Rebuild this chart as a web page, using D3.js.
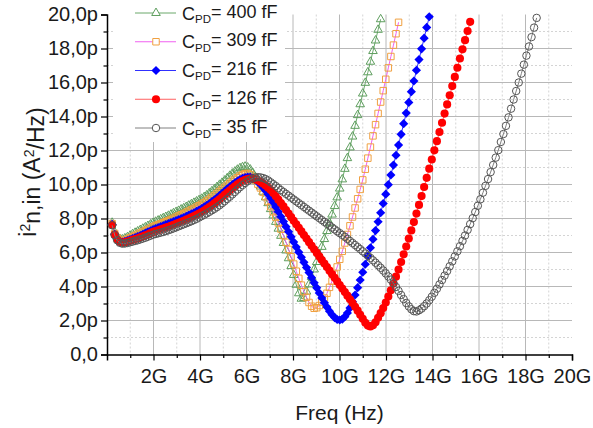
<!DOCTYPE html>
<html>
<head>
<meta charset="utf-8">
<script src="https://cdn.jsdelivr.net/npm/d3@7"></script>
<style>
	body { margin: 0; background: #fff; }
	text { font-family: "Liberation Sans", Arial, sans-serif; fill: #1a1a1a; }
</style>
</head>
<body>
<svg id="chart" width="593" height="428"></svg>
<script>
//frequency sweep (GHz), shared by all curves
var freqGHz = [0.22,0.33,0.44,0.55,0.66,0.77,0.88,0.99,1.1,1.21,1.32,1.43,1.54,1.65,1.76,1.87,1.98,2.09,2.2,2.31,2.42,2.53,2.64,2.75,2.86,2.97,3.08,3.19,3.3,3.41,3.52,3.63,3.74,3.85,3.96,4.07,4.18,4.29,4.4,4.51,4.62,4.73,4.84,4.95,5.06,5.17,5.28,5.39,5.5,5.61,5.72,5.83,5.94,6.05,6.16,6.27,6.38,6.49,6.6,6.71,6.82,6.93,7.04,7.15,7.26,7.37,7.48,7.59,7.7,7.81,7.92,8.03,8.14,8.25,8.36,8.47,8.58,8.69,8.8,8.91,9.02,9.13,9.24,9.35,9.46,9.57,9.68,9.79,9.9,10.01,10.12,10.23,10.34,10.45,10.56,10.67,10.78,10.89,11,11.11,11.22,11.33,11.44,11.55,11.66,11.77,11.88,11.99,12.1,12.21,12.32,12.43,12.54,12.65,12.76,12.87,12.98,13.09,13.2,13.31,13.42,13.53,13.64,13.75,13.86,13.97,14.08,14.19,14.3,14.41,14.52,14.63,14.74,14.85,14.96,15.07,15.18,15.29,15.4,15.51,15.62,15.73,15.84,15.95,16.06,16.17,16.28,16.39,16.5,16.61,16.72,16.83,16.94,17.05,17.16,17.27,17.38,17.49,17.6,17.71,17.82,17.93,18.04,18.15,18.26,18.37,18.48];

//noise current density in pA^2/Hz, one value per sweep point
var cpd400 = [7.75,7.2,6.92,6.8,6.77,6.83,6.9,6.99,7.08,7.16,7.24,7.32,7.4,7.48,7.56,7.65,7.74,7.81,7.88,7.95,8.02,8.09,8.16,8.23,8.31,8.38,8.45,8.53,8.6,8.68,8.76,8.84,8.92,9.0,9.08,9.16,9.26,9.36,9.48,9.6,9.72,9.85,9.98,10.1,10.23,10.37,10.51,10.64,10.76,10.87,10.96,11.02,11.05,
	11.0,10.88,10.68,10.44,10.17,9.88,9.57,9.24,8.9,8.55,8.18,7.8,7.4,6.98,6.56,6.12,5.66,5.2,4.68,4.1,3.6,3.28,3.32,3.7,4.12,4.56,5.0,5.44,5.88,6.33,6.79,7.26,7.74,8.23,8.73,9.24,9.76,10.3,10.92,11.55,12.18,12.82,13.45,14.08,14.72,15.35,15.98,16.6,17.22,17.85,18.47,19.1,19.72];
var cpd309 = [7.7,7.12,6.85,6.72,6.69,6.73,6.79,6.86,6.93,7.0,7.07,7.14,7.21,7.28,7.35,7.43,7.51,7.57,7.63,7.69,7.75,7.81,7.87,7.94,8.01,8.08,8.15,8.22,8.29,8.36,8.43,8.51,8.59,8.67,8.75,8.84,8.93,9.03,9.13,9.24,9.35,9.47,9.59,9.71,9.83,9.95,10.07,10.19,10.3,10.4,10.5,10.58,10.64,
	10.65,10.58,10.45,10.25,10.02,9.8,9.55,9.28,9.0,8.7,8.4,8.08,7.74,7.38,7.0,6.6,6.18,5.75,5.32,4.9,4.48,4.08,3.7,3.36,3.06,2.84,2.72,2.75,2.88,3.08,3.32,3.6,3.95,4.32,4.72,5.15,5.6,6.07,6.56,7.06,7.57,8.09,8.62,9.16,9.71,10.27,10.9,11.55,12.2,12.86,13.52,14.18,14.85,15.52,16.19,16.86,17.53,18.2,18.87,19.54];
var cpd216 = [7.65,7.08,6.8,6.66,6.62,6.65,6.7,6.76,6.82,6.88,6.94,7.0,7.07,7.14,7.21,7.28,7.35,7.41,7.47,7.52,7.58,7.64,7.7,7.76,7.82,7.88,7.94,8.0,8.06,8.13,8.2,8.27,8.34,8.42,8.5,8.59,8.68,8.78,8.88,8.99,9.1,9.22,9.35,9.48,9.61,9.74,9.87,9.99,10.1,10.2,10.29,10.36,10.41,
	10.44,10.43,10.38,10.28,10.15,10.0,9.83,9.64,9.43,9.2,8.95,8.68,8.4,8.11,7.82,7.52,7.22,6.92,6.62,6.32,6.02,5.72,5.42,5.12,4.82,4.52,4.22,3.92,3.62,3.33,3.05,2.79,2.55,2.34,2.17,2.06,2.03,2.08,2.22,2.44,2.74,3.1,3.5,3.93,4.38,4.84,5.31,5.79,6.28,6.78,7.29,7.81,8.34,8.88,9.43,9.99,10.56,11.14,11.72,12.32,12.95,13.58,14.2,14.83,15.46,16.09,16.72,17.35,17.98,18.61,19.24,19.87];
var cpd126 = [7.62,7.05,6.76,6.62,6.58,6.6,6.64,6.69,6.74,6.79,6.84,6.89,6.95,7.01,7.07,7.14,7.21,7.26,7.31,7.36,7.41,7.46,7.51,7.57,7.63,7.69,7.75,7.81,7.87,7.93,8.0,8.07,8.14,8.21,8.29,8.38,8.47,8.57,8.67,8.78,8.89,9.01,9.13,9.26,9.39,9.52,9.65,9.78,9.9,10.01,10.11,10.2,10.27,
	10.32,10.35,10.34,10.31,10.25,10.16,10.06,9.94,9.81,9.67,9.5,9.31,9.11,8.91,8.71,8.5,8.29,8.08,7.87,7.66,7.45,7.24,7.03,6.82,6.61,6.4,6.19,5.98,5.77,5.56,5.35,5.14,4.93,4.72,4.51,4.3,4.09,3.88,3.67,3.46,3.25,3.03,2.81,2.58,2.34,2.1,1.87,1.7,1.65,1.72,1.9,2.16,2.43,2.73,3.06,3.41,3.78,4.17,4.58,5.0,5.44,5.89,6.35,6.82,7.3,7.79,8.29,8.8,9.32,9.85,10.39,10.93,11.47,12.01,12.55,13.09,13.63,14.17,14.71,15.25,15.79,16.33,16.87,17.41,17.95,18.49,19.03,19.57];
var cpd35 = [7.6,7.02,6.72,6.57,6.52,6.53,6.56,6.6,6.64,6.68,6.72,6.77,6.82,6.87,6.93,6.99,7.05,7.09,7.13,7.17,7.21,7.26,7.31,7.36,7.42,7.48,7.54,7.6,7.66,7.72,7.78,7.84,7.91,7.98,8.06,8.14,8.22,8.3,8.39,8.48,8.57,8.67,8.78,8.9,9.02,9.15,9.28,9.42,9.56,9.7,9.84,9.97,10.09,
	10.2,10.29,10.36,10.41,10.43,10.42,10.38,10.32,10.24,10.13,10.02,9.91,9.79,9.67,9.56,9.45,9.34,9.23,9.12,9.01,8.9,8.79,8.68,8.57,8.46,8.35,8.24,8.13,8.02,7.91,7.8,7.69,7.58,7.47,7.36,7.25,7.14,7.03,6.92,6.8,6.68,6.56,6.44,6.32,6.2,6.07,5.94,5.81,5.68,5.54,5.4,5.25,5.1,4.94,4.77,4.59,4.4,4.19,3.97,3.74,3.5,3.26,3.03,2.83,2.66,2.55,2.53,2.6,2.7,2.84,3.0,3.19,3.4,3.63,3.87,4.12,4.38,4.64,4.91,5.19,5.48,5.77,6.07,6.37,6.68,7.0,7.33,7.67,8.02,8.38,8.75,9.13,9.52,9.92,10.32,10.73,11.15,11.58,12.02,12.5,12.97,13.45,13.95,14.46,15.0,15.5,16.0,16.52,17.05,17.58,18.12,18.67,19.23,19.8];

var legendValues = ["400", "309", "216", "126", "35"];
var xTickValues = [2, 4, 6, 8, 10, 12, 14, 16, 18, 20];
var yTickValues = [0, 2, 4, 6, 8, 10, 12, 14, 16, 18, 20];

//style for each curve (legend order, also drawing order)
var series = [
	{data: cpd400, line: "#6aa86a", symbol: d3.symbolTriangle, size: 32, stroke: "#5e9e5e", fill: "none", rot: 0},
	{data: cpd309, line: "#f060f0", symbol: d3.symbolSquare, size: 42, stroke: "#f0a040", fill: "none", rot: 0},
	{data: cpd216, line: "#3030ff", symbol: d3.symbolSquare, size: 42, stroke: "none", fill: "#0000ff", rot: 45},
	{data: cpd126, line: "#ff6060", symbol: d3.symbolCircle, size: 52, stroke: "none", fill: "#ff0000", rot: 0},
	{data: cpd35, line: "#808080", symbol: d3.symbolCircle, size: 44, stroke: "#555555", fill: "none", rot: 0}
];

var svg = d3.select("#chart");
var margin = {top: 14.5, left: 107, right: 21, bottom: 73.5};
var graph_w = 593 - margin.left - margin.right;
var graph_h = 428 - margin.top - margin.bottom;

var x = d3.scaleLinear().domain([0, 20]).range([0, graph_w]);
var y = d3.scaleLinear().domain([0, 20]).range([graph_h, 0]);

var g = svg.append("g")
	.attr("transform", "translate(" + margin.left + "," + margin.top + ")");

// grid: solid at major, dashed at minor
var gridVals = d3.range(1, 20);
g.append("g").selectAll("line.vgrid")
	.data(gridVals)
	.enter().append("line")
	.attr("x1", function(d) { return x(d); })
	.attr("x2", function(d) { return x(d); })
	.attr("y1", 0).attr("y2", graph_h)
	.attr("stroke", function(d) { return d % 2 ? "#d4d4d4" : "#b8b8b8"; })
	.attr("stroke-dasharray", function(d) { return d % 2 ? "2,2" : null; })
	.attr("stroke-width", 1);
g.append("g").selectAll("line.hgrid")
	.data(gridVals)
	.enter().append("line")
	.attr("y1", function(d) { return y(d); })
	.attr("y2", function(d) { return y(d); })
	.attr("x1", 0).attr("x2", graph_w)
	.attr("stroke", function(d) { return d % 2 ? "#d4d4d4" : "#b8b8b8"; })
	.attr("stroke-dasharray", function(d) { return d % 2 ? "2,2" : null; })
	.attr("stroke-width", 1);

// axes
var xAxis = d3.axisBottom(x).tickValues(xTickValues).tickSize(6).tickPadding(5)
	.tickFormat(function(d) { return d + "G"; });
var yAxis = d3.axisLeft(y).tickValues(yTickValues).tickSize(6).tickPadding(3)
	.tickFormat(function(d) { return d === 0 ? "0,0" : d.toFixed(1).replace(".", ",") + "p"; });

var minorX = d3.axisBottom(x).tickValues(d3.range(1, 20, 2)).tickSize(3.5).tickFormat("");
var minorY = d3.axisLeft(y).tickValues(d3.range(1, 20, 2)).tickSize(3.5).tickFormat("");

g.append("g").attr("transform", "translate(0," + graph_h + ")").call(minorX)
	.call(function(a) { a.select(".domain").remove(); });
g.append("g").call(minorY)
	.call(function(a) { a.select(".domain").remove(); });

var gx = g.append("g")
	.attr("class", "x axis")
	.attr("transform", "translate(0," + graph_h + ")")
	.call(xAxis);
var gy = g.append("g")
	.attr("class", "y axis")
	.call(yAxis);

svg.selectAll(".axis .domain").attr("stroke", "#000").attr("stroke-width", 1.5);
svg.selectAll(".axis text").style("font-size", "20px").attr("fill", "#1a1a1a");
g.selectAll(".tick line").attr("stroke", "#000").attr("stroke-width", 1.2);
gx.selectAll("text").attr("dy", "0.85em");

// axis titles
svg.append("text")
	.attr("x", margin.left + x(10))
	.attr("y", 420)
	.attr("text-anchor", "middle")
	.style("font-size", "21px")
	.text("Freq (Hz)");

var yt = svg.append("text")
	.attr("transform", "translate(36,172) rotate(-90)")
	.attr("text-anchor", "middle")
	.style("font-size", "23px");
yt.append("tspan").text("i");
yt.append("tspan").attr("dy", "-0.45em").style("font-size", "14px").text("2");
yt.append("tspan").attr("dy", "0.45em").text("n,in (A");
yt.append("tspan").attr("dy", "-0.45em").style("font-size", "14px").text("2");
yt.append("tspan").attr("dy", "0.45em").text("/Hz)");

// curves
series.forEach(function(s) {
	var pts = s.data.map(function(v, i) { return [freqGHz[i], v]; });
	var line = d3.line()
		.x(function(d) { return x(d[0]); })
		.y(function(d) { return y(d[1]); });
	g.append("path")
		.datum(pts)
		.attr("fill", "none")
		.attr("stroke", s.line)
		.attr("stroke-width", 1)
		.attr("d", line);
	g.append("g").selectAll("path")
		.data(pts)
		.enter().append("path")
		.attr("d", d3.symbol().type(s.symbol).size(s.size))
		.attr("transform", function(d) { return "translate(" + x(d[0]) + "," + y(d[1]) + ") rotate(" + s.rot + ")"; })
		.attr("fill", s.fill)
		.attr("stroke", s.stroke)
		.attr("stroke-width", 1);
});

// legend, white box over the grid
var leg = svg.append("g");
leg.append("rect")
	.attr("x", 113).attr("y", 0)
	.attr("width", 172).attr("height", 142)
	.attr("fill", "#fff");
var rowY = d3.scalePoint().domain(legendValues).range([13, 128]);
legendValues.forEach(function(v, i) {
	var s = series[i], cy = rowY(v);
	leg.append("line")
		.attr("x1", 135).attr("x2", 176)
		.attr("y1", cy).attr("y2", cy)
		.attr("stroke", s.line).attr("stroke-width", 1);
	leg.append("path")
		.attr("d", d3.symbol().type(s.symbol).size(s.size))
		.attr("transform", "translate(156," + cy + ") rotate(" + s.rot + ")")
		.attr("fill", s.fill === "none" ? "#fff" : s.fill)
		.attr("stroke", s.stroke)
		.attr("stroke-width", 1);
	var t = leg.append("text")
		.attr("x", 182).attr("y", cy + 6.5)
		.style("font-size", "18px");
	t.append("tspan").text("C");
	t.append("tspan").attr("dy", "0.3em").style("font-size", "11.5px").text("PD");
	t.append("tspan").attr("dy", "-0.3em").text("= " + v + " fF");
});
</script>
</body>
</html>
